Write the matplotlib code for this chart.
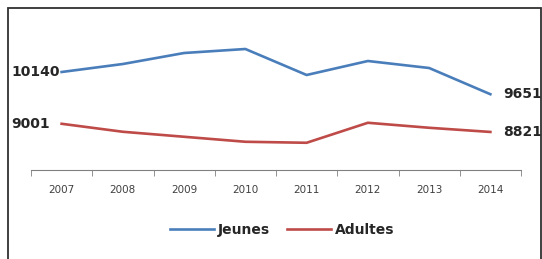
import matplotlib
matplotlib.use("Agg")
import matplotlib.pyplot as plt
from matplotlib.patches import Rectangle

years = ["2007", "2008", "2009", "2010", "2011", "2012", "2013", "2014"]
jeunes = [10140, 10316, 10558, 10646, 10074, 10382, 10228, 9651]
adultes = [9001, 8825, 8715, 8605, 8583, 9023, 8913, 8821]
series_names = ["Jeunes", "Adultes"]

plt.rcParams['font.family'] = ['DejaVu Sans']

fig = plt.figure(figsize=(5.42, 2.59), dpi=100)
W, H = 542, 259
ax = fig.add_axes([31 / W, (H - 170) / H, 490 / W, (170 - 30) / H])

x = list(range(len(years)))
l1, = ax.plot(x, jeunes, color="#4a7ebb", lw=1.9, label=series_names[0])
l2, = ax.plot(x, adultes, color="#be4b48", lw=1.9, label=series_names[1])

ax.set_xlim(-0.5, len(years) - 0.5)
ax.set_ylim(7984, 11064)
ax.set_xticks(x)
ax.set_xticklabels(years, fontsize=7.5, color="#404040")
ax.set_xticks([i - 0.5 for i in range(len(years) + 1)], minor=True)
ax.tick_params(axis='x', which='major', length=0, pad=10.5)
ax.tick_params(axis='x', which='minor', length=4, direction='out', color="#808080")
ax.set_yticks([])
for s in ["top", "right", "left"]:
    ax.spines[s].set_visible(False)
ax.spines["bottom"].set_color("#808080")

lab_kw = dict(fontsize=10, fontweight="bold", color="#262626", va="center",
              textcoords="offset pixels", ha="left")
ax.annotate(str(jeunes[0]), (x[0], jeunes[0]), xytext=(-50, 0), **lab_kw)
ax.annotate(str(adultes[0]), (x[0], adultes[0]), xytext=(-50, 0), **lab_kw)
ax.annotate(str(jeunes[-1]), (x[-1], jeunes[-1]), xytext=(13, 0), **lab_kw)
ax.annotate(str(adultes[-1]), (x[-1], adultes[-1]), xytext=(13, 0), **lab_kw)

leg = fig.legend(handles=[l1, l2], loc="center", bbox_to_anchor=(282 / W, 1 - 230 / H),
                 ncol=2, frameon=False, fontsize=10, handlelength=3.2, columnspacing=1.2,
                 handletextpad=0.25)
for t in leg.get_texts():
    t.set_color("#262626")
    t.set_fontweight("bold")

fig.patches.append(Rectangle((7.5 / W, -0.1), (540.5 - 7.5) / W, 1.1 - 8.5 / H,
                             transform=fig.transFigure, fill=False,
                             edgecolor="#303030", lw=1.3))

fig.savefig("out.png", dpi=100)
